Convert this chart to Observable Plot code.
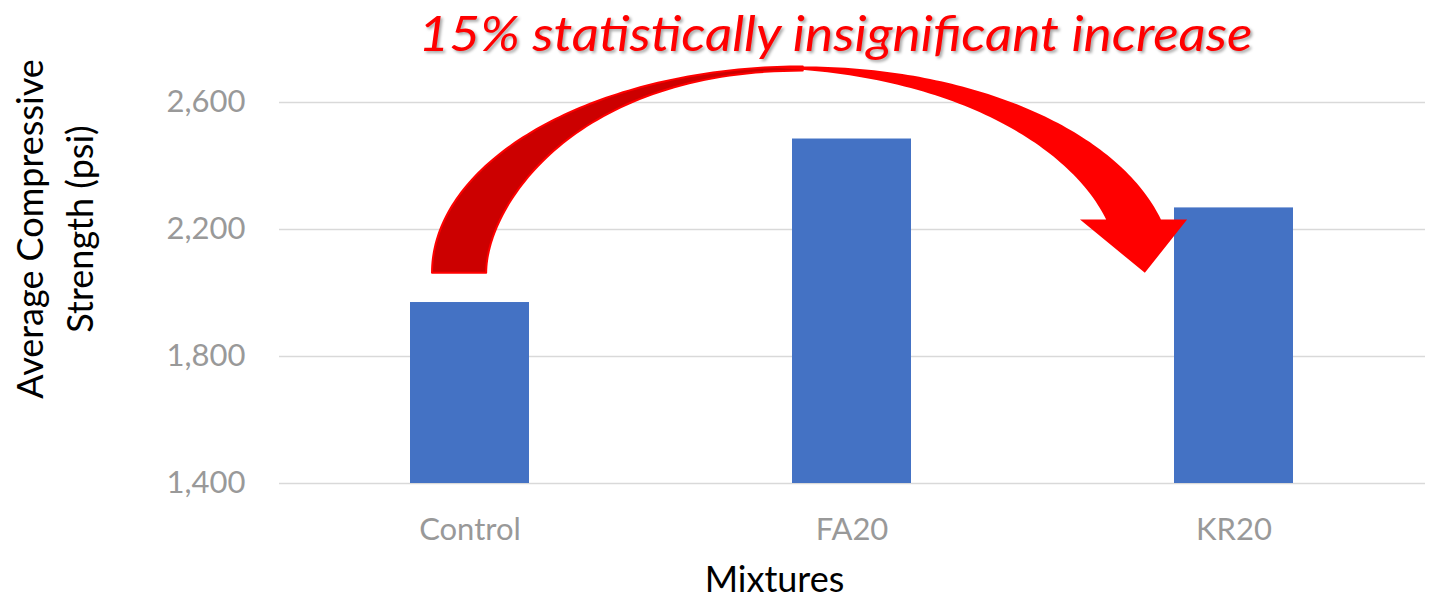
<!DOCTYPE html>
<html>
<head>
<meta charset="utf-8">
<script src="https://cdn.jsdelivr.net/npm/d3@7"></script>
<script src="https://cdn.jsdelivr.net/npm/@observablehq/plot@0.6"></script>
<style>
  html, body { margin: 0; padding: 0; background: #fff; }
  #chart svg { display: block; overflow: visible; }
</style>
</head>
<body>
<div id="chart"></div>
<script>
// Average compressive strength per mixture (psi)
const mixtures = ["Control", "FA20", "KR20"];
const strength = [1970, 2485, 2268];
const yTicks = [1400, 1800, 2200, 2600];

const titleText = "15% statistically insignificant increase";
const yLabelLines = ["Average Compressive", "Strength (psi)"];
const xLabel = "Mixtures";

// Curved callout arrow: from the Control bar over to the KR20 bar (levels in psi)
const arrowFrom = "Control";
const arrowTo = "KR20";
const arrowBase = 2062;      // tail bottom and arrow tip
const arrowCrest = 2712;     // top of the arc
const arrowHeadBase = 2230;  // where the arrowhead wings sit

const data = mixtures.map((m, i) => ({mixture: m, strength: strength[i]}));

const BAR_PADDING = 0.688;

function curvedArrow(index, scales, values, dims) {
  const x = scales.x, y = scales.y;
  const step = (dims.width - dims.marginLeft - dims.marginRight) / mixtures.length;
  const bw = typeof x.bandwidth === "function" ? x.bandwidth() : step * (1 - BAR_PADDING);
  const x0 = x(arrowFrom), x1 = x(arrowTo);
  const yBase = y(arrowBase), yCrest = y(arrowCrest), yHead = y(arrowHeadBase);

  const tailOuter = x0 + 0.185 * bw;
  const tailInner = x0 + 0.64 * bw;
  const shaftOuter = x1 - 0.11 * bw;
  const shaftInner = x1 - 0.57 * bw;
  const wingL = x1 - 0.79 * bw;
  const wingR = x1 + 0.11 * bw;
  const tip = x1 - 0.245 * bw;

  // outer edge follows an ellipse centred at the tail level
  const ry = yBase - yCrest;
  const s = Math.sqrt(1 - ((yBase - yHead) / ry) ** 2);
  const rx = (shaftOuter - tailOuter) / (1 + s);
  const cx = tailOuter + rx;
  const thEnd = Math.asin((yBase - yHead) / ry);
  const ell = th => [cx + rx * Math.cos(th), yBase - ry * Math.sin(th)];
  const arc = (a, b, n = 90) => d3.range(n + 1).map(i => ell(a + (b - a) * i / n));
  const bez = (p0, p1, p2, p3, n = 70) => d3.range(n + 1).map(i => {
    const t = i / n, u = 1 - t;
    const a = u * u * u, b = 3 * u * u * t, c = 3 * u * t * t, d = t * t * t;
    return [a * p0[0] + b * p1[0] + c * p2[0] + d * p3[0],
            a * p0[1] + b * p1[1] + c * p2[1] + d * p3[1]];
  });

  // back face (darker): tail up to the crest
  const crest = [cx, yCrest + 0.02 * ry];
  const back = [
    ...arc(Math.PI, Math.PI / 2),
    ...bez(crest, [cx - 0.62 * rx, yCrest + 0.02 * ry], [tailInner, yBase - 0.32 * ry], [tailInner, yBase])
  ];

  // front face: crest down to the arrowhead
  const thFront = Math.acos(-0.105);
  const frontStart = ell(thFront);
  const front = [
    ...arc(thFront, thEnd),
    [wingR, yHead],
    [tip, yBase],
    [wingL, yHead],
    ...bez([shaftInner, yHead], [shaftInner - 0.29 * bw, yHead - 0.34 * ry],
           [cx + 0.42 * rx, yCrest + 0.035 * ry], frontStart)
  ];

  const line = d3.line();
  const g = d3.create("svg:g");
  g.append("path")
    .attr("d", line(back) + "Z")
    .attr("fill", "#CC0000")
    .attr("stroke", "#FF0000")
    .attr("stroke-width", 2)
    .attr("stroke-linejoin", "round");
  g.append("path")
    .attr("d", line(front) + "Z")
    .attr("fill", "#FF0000");
  return g.node();
}

const chart = Plot.plot({
  width: 1434,
  height: 598,
  marginLeft: 279,
  marginRight: 9,
  marginTop: 102,
  marginBottom: 115,
  style: {
    fontFamily: "Lato, 'Open Sans', sans-serif",
    fontSize: "31px",
    color: "#999999",
    background: "#ffffff",
    overflow: "visible"
  },
  x: {
    domain: mixtures,
    paddingInner: BAR_PADDING,
    paddingOuter: BAR_PADDING / 2,
    tickSize: 0,
    tickPadding: 34,
    label: null
  },
  y: {
    domain: [yTicks[0], yTicks[yTicks.length - 1]],
    ticks: yTicks,
    tickSize: 0,
    tickPadding: 34,
    tickFormat: d3.format(","),
    label: null
  },
  marks: [
    Plot.ruleY(yTicks, {stroke: "#d9d9d9", strokeWidth: 1.5}),
    Plot.barY(data, {x: "mixture", y1: yTicks[0], y2: "strength", fill: "#4472C4"}),
    curvedArrow,
    Plot.text([titleText], {
      frameAnchor: "top", lineAnchor: "middle", dx: -17, dy: -67,
      fontSize: 49, fontStyle: "italic", fill: "#FF0000"
    }),
    Plot.text([yLabelLines.join("\n")], {
      frameAnchor: "left", textAnchor: "middle", lineAnchor: "middle", rotate: -90,
      dx: -228, dy: -64, fontSize: 36, lineHeight: 1.39, fill: "#000000"
    }),
    Plot.text([xLabel], {
      frameAnchor: "bottom", lineAnchor: "middle", dx: -78, dy: 97,
      fontSize: 36, fill: "#000000"
    })
  ]
});

// soft drop shadow under the red callout text
d3.select(chart).selectAll("text")
  .filter(function () { return this.textContent === titleText; })
  .attr("textLength", 834)
  .attr("lengthAdjust", "spacingAndGlyphs")
  .style("filter", "drop-shadow(2px 2px 1.5px rgba(0,0,0,0.35))");

document.getElementById("chart").appendChild(chart);
</script>
</body>
</html>
